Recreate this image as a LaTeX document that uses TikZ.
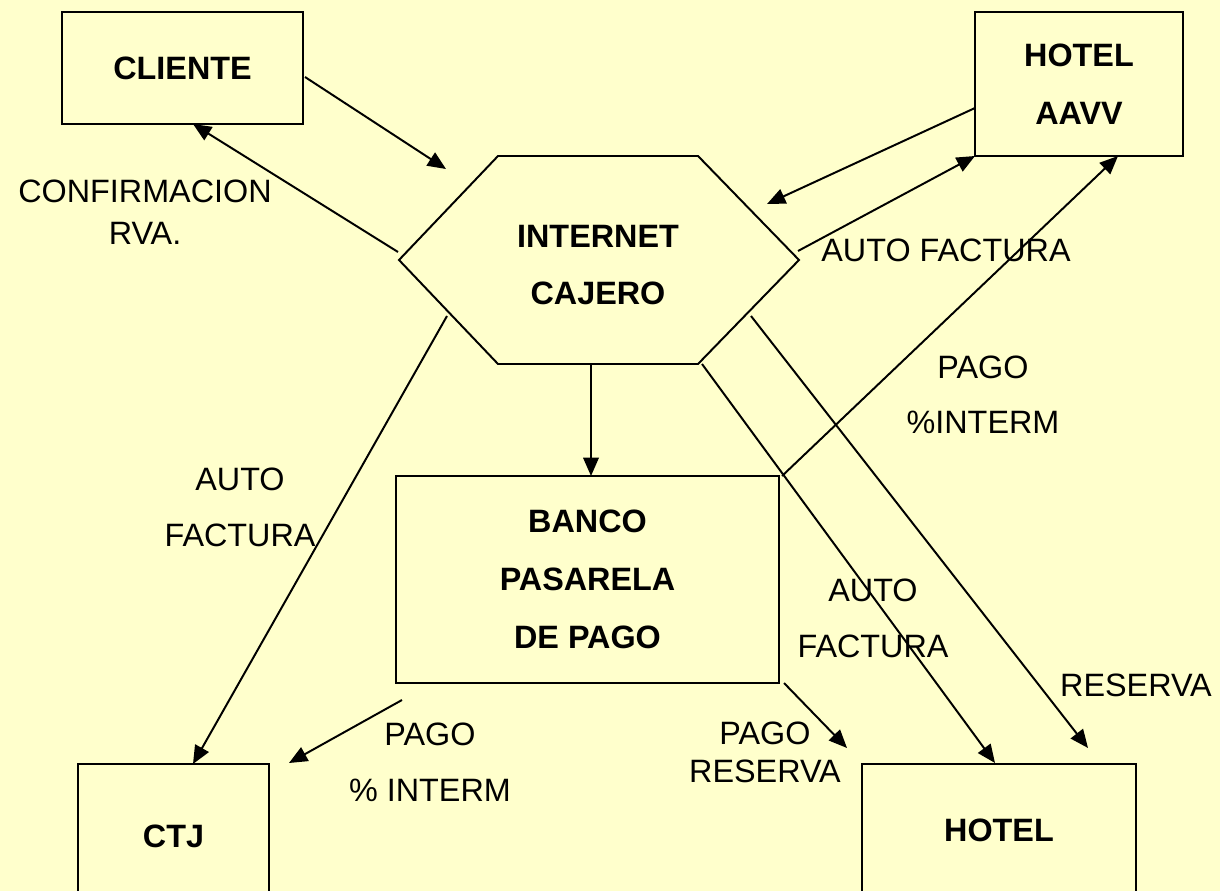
\documentclass[tikz,border=0pt]{standalone}
\usepackage{fontspec}
\setmainfont{Liberation Sans}
\usetikzlibrary{positioning, arrows.meta}
\definecolor{paper}{HTML}{FFFFCC}

\begin{document}
\begin{tikzpicture}[
        x=0.025cm, y=-0.025cm,
        every node/.style={font=\fontsize{23}{41}\selectfont, align=center, inner sep=0pt},
        entity/.style={rectangle, draw, line width=1.4pt, fill=paper, font=\fontsize{23}{41}\selectfont\bfseries},
        caption/.style={font=\fontsize{23}{40}\selectfont},
        edge/.style={-{Triangle[length=13pt,width=11pt]}, line width=1.4pt}
    ]
        % Page
        \path[use as bounding box, fill=paper] (0,0) rectangle (1220,891);
        \clip (0,0) rectangle (1220,891);
        % Central hexagon
        \draw[line width=1.4pt, fill=paper] (399,260) -- (498,156) -- (698,156) -- (799,260) -- (698,364) -- (498,364) -- cycle;
        \node[font=\fontsize{23}{40}\selectfont\bfseries] (inet) at (598,265) {INTERNET\\CAJERO};
        % Boxes
        \node[entity, minimum width=6.025cm, minimum height=2.8cm] (cliente) at (182.5,68) {CLIENTE};
        \node[entity, minimum width=5.2cm, minimum height=3.6cm] (aavv) at (1079,84) {HOTEL\\AAVV};
        \node[entity, minimum width=9.575cm, minimum height=5.175cm] (banco) at (587.5,579.5) {BANCO\\PASARELA\\DE PAGO};
        \node[entity, minimum width=4.775cm, minimum height=3.6cm] (ctj) at (173.5,836) {CTJ};
        \node[entity, minimum width=6.85cm, minimum height=3.3cm] (hotel) at (999,830) {HOTEL};
        % Connector ends
        \coordinate (cliOut) at (305,77);
        \coordinate (hexInA) at (446,169);
        \coordinate (hexOutA) at (398,252);
        \coordinate (cliIn) at (193,124);
        \coordinate (aavvOut) at (975,108);
        \coordinate (hexInB) at (767,204);
        \coordinate (hexOutB) at (798,251);
        \coordinate (aavvInA) at (975,156);
        \coordinate (bancoOutA) at (782,476);
        \coordinate (aavvInB) at (1118,156);
        \coordinate (hexOutC) at (591,364);
        \coordinate (bancoIn) at (591,476);
        \coordinate (hexOutD) at (447,316);
        \coordinate (ctjInA) at (193,764);
        \coordinate (hexOutE) at (702,364);
        \coordinate (hotelInA) at (995,763);
        \coordinate (hexOutF) at (751,316);
        \coordinate (hotelInB) at (1088,748);
        \coordinate (bancoOutB) at (402,700);
        \coordinate (ctjInB) at (289,763);
        \coordinate (bancoOutC) at (784,683);
        \coordinate (hotelInC) at (847,748);
        % Edges
        \draw[edge] (cliOut) -- (hexInA);
        \draw[edge] (hexOutA) -- (cliIn);
        \draw[edge] (aavvOut) -- (hexInB);
        \draw[edge] (hexOutB) -- (aavvInA);
        \draw[edge] (bancoOutA) -- (aavvInB);
        \draw[edge] (hexOutC) -- (bancoIn);
        \draw[edge] (hexOutD) -- (ctjInA);
        \draw[edge] (hexOutE) -- (hotelInA);
        \draw[edge] (hexOutF) -- (hotelInB);
        \draw[edge] (bancoOutB) -- (ctjInB);
        \draw[edge] (bancoOutC) -- (hotelInC);
        % Labels
        \node[font=\fontsize{23}{30}\selectfont] (lblConf) at (145,212) {CONFIRMACION\\RVA.};
        \node[caption] (lblAutoA) at (946,250) {AUTO FACTURA};
        \node[font=\fontsize{23}{39}\selectfont] (lblPagoA) at (983,395) {PAGO\\\%INTERM};
        \node[caption] (lblAutoB) at (240,507) {AUTO\\FACTURA};
        \node[caption] (lblAutoC) at (873,618) {AUTO\\FACTURA};
        \node[caption] (lblRes) at (1136,685) {RESERVA};
        \node[caption] (lblPagoB) at (430,762) {PAGO\\\% INTERM};
        \node[font=\fontsize{23}{27}\selectfont] (lblPagoC) at (765,752) {PAGO\\RESERVA};
    \end{tikzpicture}
\end{document}
